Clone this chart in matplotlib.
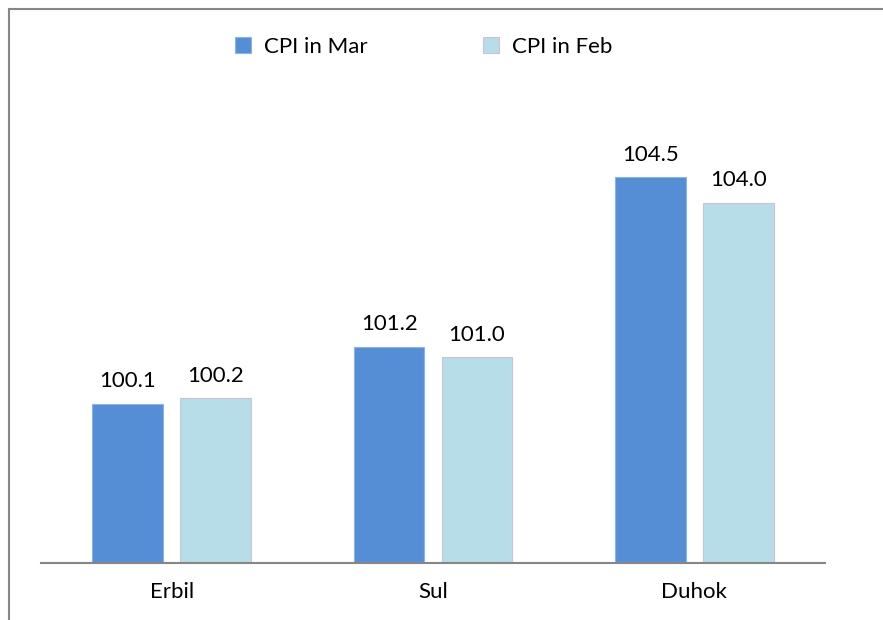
import matplotlib.pyplot as plt
import numpy as np
from matplotlib.lines import Line2D

plt.rcParams['font.family'] = ['Lato', 'DejaVu Sans']

cities = ['Erbil', 'Sul', 'Duhok']
cpi_mar = [100.1, 101.2, 104.5]
cpi_feb = [100.2, 101.0, 104.0]

W, H = 883, 620
fig = plt.figure(figsize=(W / 100, H / 100), dpi=100)
ax = fig.add_axes([41 / W, 1 - 563 / H, 784 / W, (563 - 100) / H])

x = np.arange(len(cities))
off, bw = 0.168, 0.27
b1 = ax.bar(x - off, [v - 97 for v in cpi_mar], bw, bottom=97, color='#558ED5',
            edgecolor='#8DB3E2', linewidth=0.8, label='CPI in Mar')
b2 = ax.bar(x + off, [v - 97 for v in cpi_feb], bw, bottom=97, color='#B7DEE8',
            edgecolor='#CCC0DA', linewidth=0.8, label='CPI in Feb')

for bars, vals in ((b1, cpi_mar), (b2, cpi_feb)):
    for b, v in zip(bars, vals):
        ax.annotate(f'{v:.1f}', (b.get_x() + b.get_width() / 2, v),
                    xytext=(0, 9), textcoords='offset points',
                    ha='center', va='bottom', fontsize=16)

ax.set_xlim(-0.5, 2.5)
ax.set_ylim(97, 106)
ax.set_xticks(x)
ax.set_xticklabels(cities, fontsize=16)
ax.tick_params(axis='x', length=0, pad=14)
ax.set_yticks([])
for s in ('left', 'right', 'top'):
    ax.spines[s].set_visible(False)
ax.spines['bottom'].set_color('#868686')
ax.spines['bottom'].set_linewidth(1.5)

fig.legend(loc='center', bbox_to_anchor=(424 / W, 1 - 47 / H), ncol=2,
           frameon=False, fontsize=16, handlelength=0.7, handleheight=0.7,
           handletextpad=0.6, columnspacing=5.2)

# chart border (left and top edges visible)
fig.add_artist(Line2D([8.5 / W, 8.5 / W], [0, 1 - 8.5 / H], transform=fig.transFigure,
                      color='#878787', linewidth=1.5))
fig.add_artist(Line2D([8.5 / W, 1], [1 - 8.5 / H, 1 - 8.5 / H], transform=fig.transFigure,
                      color='#878787', linewidth=1.5))

fig.savefig('out.png', dpi=100)
